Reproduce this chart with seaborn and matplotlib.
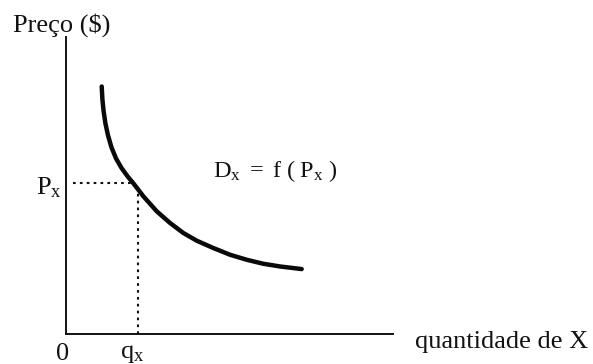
import matplotlib
matplotlib.use("Agg")
import matplotlib.pyplot as plt
import numpy as np
import seaborn as sns
import pandas as pd

# Demand curve D_x = f(P_x): quantity on x, price on y
quantidade = [1.092, 1.113, 1.150, 1.205, 1.284, 1.391, 1.529, 1.697, 1.881, 2.064, 2.364,
              2.774, 3.180, 3.587, 3.997, 4.505, 5.015, 5.526, 6.034, 6.544, 7.208]
preco = [8.334, 7.905, 7.500, 7.095, 6.689, 6.284, 5.912, 5.591, 5.311, 5.068, 4.639,
         4.132, 3.740, 3.402, 3.142, 2.895, 2.669, 2.500, 2.365, 2.274, 2.186]

# Highlighted price and quantity
q_x = 2.19
P_x = 5.07

x_label = "quantidade de X"
y_label = "Preço ($)"
curve_label = r"$\mathrm{D_x\ =\ f\ (\ P_x\ )}$"
px_label = r"$\mathrm{P_x}$"
qx_label = r"$\mathrm{q_x}$"
origin_label = "0"

sns.set_style("white")
plt.rcParams["font.family"] = ["Liberation Serif", "DejaVu Serif"]
plt.rcParams["mathtext.fontset"] = "custom"
plt.rcParams["mathtext.rm"] = "Liberation Serif"
plt.rcParams["mathtext.it"] = "Liberation Serif:italic"

W, H = 593, 364
fig = plt.figure(figsize=(W / 100, H / 100), dpi=100)
ax = fig.add_axes([66 / W, (H - 334) / H, 327 / W, 297 / H])
ax.set_xlim(0, 10)
ax.set_ylim(0, 10)

df = pd.DataFrame({"q": quantidade, "p": preco})
sns.lineplot(data=df, x="q", y="p", sort=False, color="#0a0a0a",
             linewidth=3.2, solid_capstyle="round", solid_joinstyle="round", ax=ax)

# Dotted guides from the axes to the curve
q_on_curve = np.interp(P_x, preco[::-1], quantidade[::-1])
dot = (0, (1.3, 2.0))
ax.plot([0.21, q_on_curve], [P_x, P_x], color="#111111", lw=1.5, linestyle=dot)
ax.plot([q_x, q_x], [0, P_x], color="#111111", lw=1.5, linestyle=dot)

for side in ["top", "right"]:
    ax.spines[side].set_visible(False)
for side in ["left", "bottom"]:
    ax.spines[side].set_color("#111111")
    ax.spines[side].set_linewidth(1.4)
ax.set_xticks([])
ax.set_yticks([])
ax.set_xlabel("")
ax.set_ylabel("")

txt = dict(color="#111111", clip_on=False)
ax.text(-1.62, 10.17, y_label, fontsize=19, ha="left", va="baseline", **txt)
ax.text(10.67, -0.47, x_label, fontsize=19, ha="left", va="baseline", **txt)
ax.text(-0.14, 4.70, px_label, fontsize=19, ha="right", va="baseline", **txt)
ax.text(-0.09, -0.88, origin_label, fontsize=19, ha="center", va="baseline", **txt)
ax.text(1.65, -0.82, qx_label, fontsize=19, ha="left", va="baseline", **txt)
ax.text(4.50, 5.30, curve_label, fontsize=17.5, ha="left", va="baseline", **txt)

fig.savefig("out.png", dpi=100, facecolor="white")
